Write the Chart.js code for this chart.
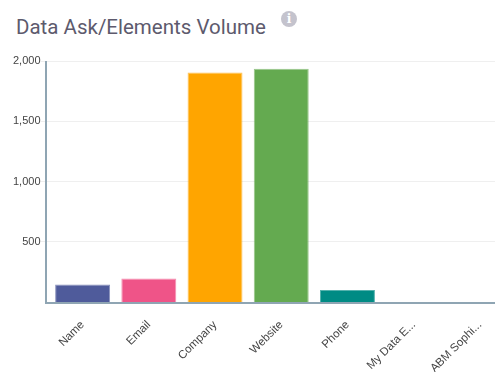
<!DOCTYPE html>
<html>
<head>
<meta charset="utf-8">
<script src="https://cdn.jsdelivr.net/npm/chart.js@4/dist/chart.umd.min.js"></script>
<style>
  html, body { margin: 0; padding: 0; background: #fff; overflow: hidden; width: 495px; height: 372px; }
  #title { position: absolute; left: 16px; top: 15px; font: 20.5px Roboto, sans-serif; color: #5d5a6d; white-space: nowrap; }
  #info { position: absolute; left: 281px; top: 11px; width: 16px; height: 16px; border-radius: 50%; background: #c4c3cd; color: #fff; font: bold 12px/16px "DejaVu Serif", serif; text-align: center; }
  #wrap { position: absolute; left: 0; top: 0; width: 530px; height: 372px; }
</style>
</head>
<body>
<div id="title">Data Ask/Elements Volume</div>
<div id="info">i</div>
<div id="wrap"><canvas id="chart"></canvas></div>
<script>
const categories = ['Name', 'Email', 'Company', 'Website', 'Phone', 'My Data E...', 'ABM Sophi...']
const values = [145, 195, 1905, 1935, 100, 0, 0]
const barColors = ['#4f5b9b', '#ef5488', '#ffa500', '#64aa50', '#008b84', '#999999', '#999999']
const yTicks = [500, 1000, 1500, 2000]

// axis lines sit a little left of the first band in the original
const axisLines = {
  id: 'axisLines',
  afterDatasetsDraw (chart) {
    const { ctx, chartArea } = chart
    ctx.save()
    ctx.strokeStyle = '#8fa5b3'
    ctx.lineWidth = 2
    ctx.beginPath()
    ctx.moveTo(chartArea.left - 3.5, chartArea.top)
    ctx.lineTo(chartArea.left - 3.5, chartArea.bottom + 1)
    ctx.lineTo(chartArea.right, chartArea.bottom + 1)
    ctx.stroke()
    ctx.restore()
  }
}

new Chart(document.getElementById('chart').getContext('2d'), {
  type: 'bar',
  data: {
    labels: categories,
    datasets: [{
      data: values,
      backgroundColor: barColors,
      borderColor: barColors.map((c) => c + 'aa'),
      borderWidth: 1,
      categoryPercentage: 0.83,
      barPercentage: 1
    }]
  },
  options: {
    responsive: true,
    maintainAspectRatio: false,
    animation: false,
    layout: { padding: { top: 61, left: 10, right: 17, bottom: 0 } },
    plugins: { legend: { display: false }, tooltip: { enabled: false } },
    scales: {
      y: {
        min: 0,
        max: 2000,
        afterBuildTicks: (axis) => { axis.ticks = yTicks.map((v) => ({ value: v })) },
        afterFit: (axis) => { axis.width = 39.5 },
        border: { display: false },
        grid: { color: '#efefef', tickLength: 9, tickColor: '#efefef' },
        ticks: { color: '#444', padding: 0, font: { family: '"Liberation Sans"', size: 11 } }
      },
      x: {
        afterFit: (axis) => { axis.height = 70 },
        border: { display: false },
        grid: { display: false },
        ticks: { color: '#444', maxRotation: 45, minRotation: 45, autoSkip: false, padding: 8, font: { family: '"Liberation Sans"', size: 11.5 } }
      }
    }
  },
  plugins: [axisLines]
})
</script>
</body>
</html>
